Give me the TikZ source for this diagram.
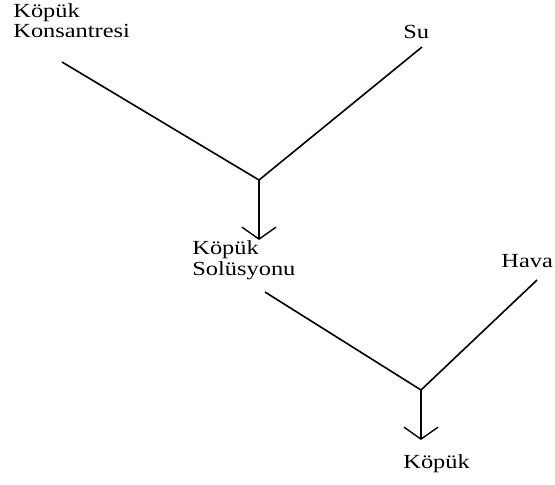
\documentclass[tikz,border=0pt]{standalone}
\usepackage{fontspec}
\newfontfamily\flowfont[FakeStretch=1.22]{Liberation Serif}
\usetikzlibrary{arrows.meta}
\tikzset{
        % Stream labels
        node_text/.style={align=left, inner sep=0pt, anchor=base west, font=\flowfont\fontsize{10}{8.6}\selectfont},
        % Incoming streams
        flow_line/.style={line width=0.8pt, black},
        % Mixed stream going down
        flow_down/.style={flow_line, -{Straight Barb[length=6pt, width=17pt, line width=0.7pt]}}
}
\begin{document}
\begin{tikzpicture}[x=0.5pt, y=-0.5pt]
    \useasboundingbox (0,0) rectangle (555,484);
    \node[node_text] (konsantre) at (13,37) {K\"op\"uk\\Konsantresi};
    \node[node_text] (su) at (403,38) {Su};
    \node[node_text] (solusyon) at (192,275) {K\"op\"uk\\Sol\"usyonu};
    \node[node_text] (hava) at (501,267) {Hava};
    \node[node_text] (kopuk) at (403,468) {K\"op\"uk};

    \coordinate (konsantre_out) at (62,62);
    \coordinate (su_out) at (422,47);
    \coordinate (mix1) at (259,180);
    \coordinate (solusyon_in) at (259,240);
    \coordinate (solusyon_out) at (265,292);
    \coordinate (hava_out) at (537,280);
    \coordinate (mix2) at (421,390);
    \coordinate (kopuk_in) at (421,440);

    \draw[flow_line] (konsantre_out) -- (mix1) -- (su_out);
    \draw[flow_down] (mix1) -- (solusyon_in);
    \draw[flow_line] (solusyon_out) -- (mix2) -- (hava_out);
    \draw[flow_down] (mix2) -- (kopuk_in);
\end{tikzpicture}
\end{document}
